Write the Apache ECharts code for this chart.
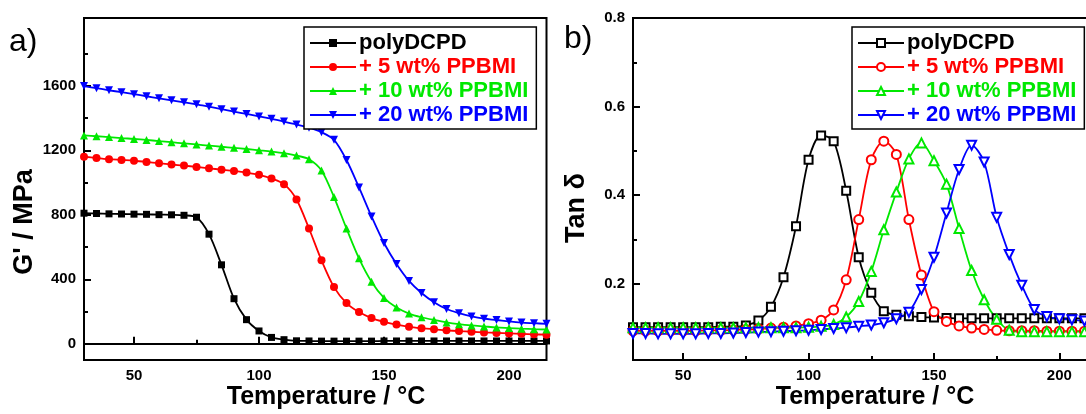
<!DOCTYPE html>
<html>
<head>
<meta charset="utf-8">
<script src="https://cdn.jsdelivr.net/npm/echarts@6/dist/echarts.min.js"></script>
<style>
  html, body { margin: 0; padding: 0; background: #fff; }
  #chart { width: 1086px; height: 414px; }
</style>
</head>
<body>
<div id="chart"></div>
<script>
// temperatures (°C), shared by both panels
var temps = [30,35,40,45,50,55,60,65,70,75,80,85,90,95,100,105,110,115,120,125,
             130,135,140,145,150,155,160,165,170,175,180,185,190,195,200,205,210,215];

var names = ['polyDCPD', '+ 5 wt% PPBMI', '+ 10 wt% PPBMI', '+ 20 wt% PPBMI'];
var colors = ['#000000', '#ff0000', '#00e800', '#0000ff'];

// a) storage modulus G' (MPa)
var gBlack = [810,808,806,805,804,803,801,800,797,785,680,490,280,150,80,40,26,19,18,17,
              17,17,17,17,18,18,18,18,18,18,18,18,18,18,18,18,18,18];
var gRed   = [1160,1152,1145,1140,1135,1128,1120,1112,1105,1097,1088,1080,1072,1062,1048,1025,990,895,715,518,
              352,253,197,160,137,120,106,97,90,84,79,75,71,68,65,62,59,57];
var gGreen = [1292,1287,1282,1276,1270,1264,1257,1250,1243,1236,1229,1222,1215,1208,1200,1192,1182,1167,1145,1075,
              910,715,530,385,285,225,188,165,148,133,122,114,108,102,98,94,91,89];
var gBlue  = [1598,1585,1572,1560,1548,1535,1522,1510,1497,1485,1470,1455,1440,1425,1410,1395,1378,1360,1340,1312,
              1265,1140,970,790,625,495,390,315,258,216,190,170,156,148,139,132,128,124];

// b) tan delta
var tBlack = [0.102,0.102,0.102,0.102,0.102,0.102,0.102,0.103,0.103,0.106,0.117,0.148,0.215,0.330,0.480,0.535,0.522,0.410,0.260,0.180,
              0.138,0.130,0.127,0.125,0.124,0.123,0.122,0.122,0.122,0.122,0.122,0.122,0.122,0.122,0.122,0.122,0.122,0.122];
var tRed   = [0.094,0.094,0.094,0.094,0.094,0.094,0.095,0.095,0.096,0.097,0.098,0.100,0.102,0.105,0.110,0.118,0.141,0.209,0.345,0.480,
              0.522,0.492,0.345,0.220,0.137,0.115,0.105,0.100,0.097,0.095,0.094,0.094,0.094,0.093,0.093,0.093,0.093,0.093];
var tGreen = [0.101,0.101,0.101,0.101,0.101,0.101,0.101,0.101,0.101,0.101,0.101,0.101,0.101,0.101,0.102,0.104,0.108,0.125,0.160,0.228,
              0.322,0.407,0.482,0.518,0.478,0.425,0.325,0.230,0.164,0.120,0.095,0.092,0.092,0.092,0.092,0.092,0.092,0.092];
var tBlue  = [0.088,0.088,0.087,0.087,0.087,0.087,0.088,0.088,0.089,0.090,0.091,0.092,0.093,0.094,0.095,0.097,0.099,0.101,0.104,0.107,
              0.112,0.121,0.136,0.187,0.260,0.360,0.458,0.513,0.475,0.350,0.266,0.197,0.142,0.126,0.121,0.119,0.116,0.114];

// tick positions
var xLabels = [50, 100, 150, 200];
var xMinor = [75, 125, 175];
var gLabels = [0, 400, 800, 1200, 1600];
var gMinor = [200, 600, 1000, 1400, 1800];
var tLabels = [0.2, 0.4, 0.6, 0.8];
var tMinor = [0.1, 0.3, 0.5, 0.7];

var FONT = '"Liberation Sans", Arial, sans-serif';
var PREFIX_B = 'b: ';

function pairs(ys) {
  return temps.map(function (t, i) { return [t, ys[i]]; });
}

function mainAxis(grid, pos, min, max, labels, fmt) {
  return {
    type: 'value', gridIndex: grid, position: pos, min: min, max: max,
    axisLine: { show: true, lineStyle: { color: '#000', width: 2 } },
    axisTick: { show: true, inside: true, length: 7, customValues: labels, lineStyle: { color: '#000', width: 2 } },
    axisLabel: {
      customValues: labels, color: '#000', fontWeight: 'bold', fontSize: 15, fontFamily: FONT, margin: 8,
      formatter: fmt || function (v) { return String(v); }
    },
    splitLine: { show: false }
  };
}
function minorAxis(grid, pos, min, max, ticks) {
  return {
    type: 'value', gridIndex: grid, position: pos, min: min, max: max,
    axisLine: { show: false },
    axisTick: { show: true, inside: true, length: 4, customValues: ticks, lineStyle: { color: '#000', width: 2 } },
    axisLabel: { show: false },
    splitLine: { show: false }
  };
}

var gData = [gBlack, gRed, gGreen, gBlue];
var tData = [tBlack, tRed, tGreen, tBlue];
var filled = ['rect', 'circle', 'triangle', 'triangle'];
var hollow = ['emptyRect', 'emptyCircle', 'emptyTriangle', 'emptyTriangle'];

var series = [];
names.forEach(function (n, i) {
  series.push({
    name: n, type: 'line', xAxisIndex: 0, yAxisIndex: 0,
    data: pairs(gData[i]), smooth: 0.3, showAllSymbol: true,
    symbol: filled[i], symbolSize: i === 0 ? 7 : 8, symbolRotate: i === 3 ? 180 : 0,
    itemStyle: { color: colors[i] },
    lineStyle: { color: colors[i], width: 1.8 },
    animation: false
  });
});
names.forEach(function (n, i) {
  series.push({
    name: PREFIX_B + n, type: 'line', xAxisIndex: 2, yAxisIndex: 2,
    data: pairs(tData[i]), smooth: 0.3, showAllSymbol: true,
    symbol: hollow[i], symbolSize: i === 0 ? 8 : 9, symbolRotate: i === 3 ? 180 : 0,
    itemStyle: { color: colors[i], borderWidth: 1 },
    lineStyle: { color: colors[i], width: 1.8 },
    animation: false
  });
});

function legend(left, prefix) {
  return {
    orient: 'vertical', left: left, top: 27,
    itemWidth: 46, itemHeight: 10, itemGap: 2,
    padding: [5, 8, 3, 5],
    borderColor: '#000', borderWidth: 1.5, backgroundColor: '#fff',
    selectedMode: false,
    formatter: function (n) { return n.replace(PREFIX_B, ''); },
    textStyle: { fontSize: 22, fontWeight: 'bold', fontFamily: FONT, lineHeight: 19, padding: [0, 0, 0, -2] },
    data: names.map(function (n, i) {
      return { name: prefix + n, textStyle: { color: colors[i] } };
    })
  };
}

var titleFont = 'bold 25px ' + FONT;
var yNameFont = 'bold 27px ' + FONT;

var option = {
  backgroundColor: '#fff',
  animation: false,
  grid: [
    { left: 84, top: 18, width: 462.5, height: 342, show: true, borderColor: '#000', borderWidth: 2, containLabel: false, outerBoundsMode: 'none' },
    { left: 633, top: 18, width: 464, height: 342, show: true, borderColor: '#000', borderWidth: 2, containLabel: false, outerBoundsMode: 'none' }
  ],
  xAxis: [
    mainAxis(0, 'bottom', 30, 215, xLabels),
    minorAxis(0, 'bottom', 30, 215, xMinor),
    mainAxis(1, 'bottom', 30, 215, xLabels),
    minorAxis(1, 'bottom', 30, 215, xMinor)
  ],
  yAxis: [
    mainAxis(0, 'left', -100, 2020, gLabels),
    minorAxis(0, 'left', -100, 2020, gMinor),
    mainAxis(1, 'left', 0.028, 0.8, tLabels, function (v) { return v.toFixed(1); }),
    minorAxis(1, 'left', 0.028, 0.8, tMinor)
  ],
  legend: [legend(304, ''), legend(852, PREFIX_B)],
  graphic: [
    { type: 'text', left: 9, top: 26, style: { text: 'a)', font: '32px ' + FONT, fill: '#000' } },
    { type: 'text', left: 564, top: 23, style: { text: 'b)', font: '32px ' + FONT, fill: '#000' } },
    { type: 'text', x: 326, y: 397, style: { text: 'Temperature / °C', font: titleFont, fill: '#000', align: 'center', verticalAlign: 'middle' } },
    { type: 'text', x: 875, y: 397, style: { text: 'Temperature / °C', font: titleFont, fill: '#000', align: 'center', verticalAlign: 'middle' } },
    { type: 'text', x: 25, y: 222, rotation: Math.PI / 2, style: { text: "G' / MPa", font: yNameFont, fill: '#000', align: 'center', verticalAlign: 'middle' } },
    { type: 'text', x: 577, y: 208, rotation: Math.PI / 2, style: { text: 'Tan δ', font: yNameFont, fill: '#000', align: 'center', verticalAlign: 'middle' } }
  ],
  series: series
};

var myChart = echarts.init(document.getElementById('chart'), null, { renderer: 'canvas' });
myChart.setOption(option);
window.addEventListener('resize', function () {
  myChart.resize();
});
</script>
</body>
</html>
